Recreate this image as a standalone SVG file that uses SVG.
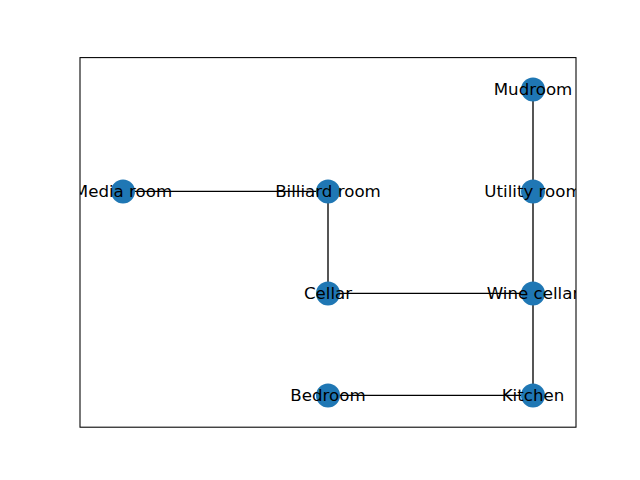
<svg xmlns="http://www.w3.org/2000/svg" width="640" height="480" viewBox="0 0 640 480">
  <style>
    .edge { stroke: #000000; stroke-width: 1.33; fill: none; }
    .node circle { fill: #1f77b4; }
    .node text { font-family: "DejaVu Sans", sans-serif; font-size: 16.67px; fill: #000000; text-anchor: middle; }
    .frame { fill: none; stroke: #000000; stroke-width: 1.07; }
  </style>
  <defs>
    <clipPath id="axesClip">
      <rect x="80" y="57.6" width="496" height="369.6"/>
    </clipPath>
  </defs>
  <rect x="0" y="0" width="640" height="480" fill="#ffffff"/>

  <g id="edges">
    <line class="edge" x1="123" y1="191.4" x2="328" y2="191.4"/>
    <line class="edge" x1="328" y1="191.4" x2="328" y2="293.4"/>
    <line class="edge" x1="328" y1="293.4" x2="533" y2="293.4"/>
    <line class="edge" x1="328" y1="395.4" x2="533" y2="395.4"/>
    <line class="edge" x1="533" y1="89.4" x2="533" y2="191.4"/>
    <line class="edge" x1="533" y1="191.4" x2="533" y2="293.4"/>
    <line class="edge" x1="533" y1="293.4" x2="533" y2="395.4"/>
  </g>

  <g id="node-circles">
    <g id="mudroom" class="node"><circle cx="533" cy="89.4" r="12"/></g>
    <g id="utility-room" class="node"><circle cx="533" cy="191.4" r="12"/></g>
    <g id="wine-cellar" class="node"><circle cx="533" cy="293.4" r="12"/></g>
    <g id="kitchen" class="node"><circle cx="533" cy="395.4" r="12"/></g>
    <g id="media-room" class="node"><circle cx="123" cy="191.4" r="12"/></g>
    <g id="billiard-room" class="node"><circle cx="328" cy="191.4" r="12"/></g>
    <g id="cellar" class="node"><circle cx="328" cy="293.4" r="12"/></g>
    <g id="bedroom" class="node"><circle cx="328" cy="395.4" r="12"/></g>
  </g>

  <g id="labels" class="node" clip-path="url(#axesClip)">
    <text x="533" y="95.4">Mudroom</text>
    <text x="533" y="197.4">Utility room</text>
    <text x="533" y="299.4">Wine cellar</text>
    <text x="533" y="401.4">Kitchen</text>
    <text x="123" y="197.4">Media room</text>
    <text x="328" y="197.4">Billiard room</text>
    <text x="328" y="299.4">Cellar</text>
    <text x="328" y="401.4">Bedroom</text>
  </g>

  <rect class="frame" x="80" y="57.6" width="496" height="369.6"/>
</svg>
